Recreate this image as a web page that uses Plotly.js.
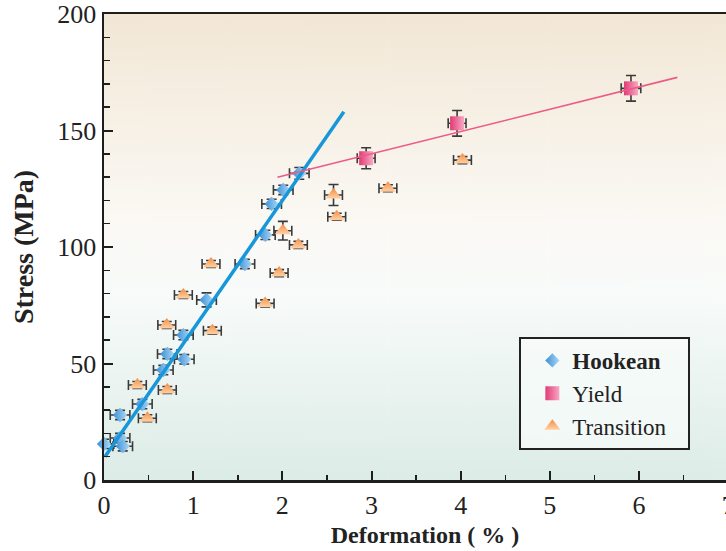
<!DOCTYPE html>
<html>
<head>
<meta charset="utf-8">
<script src="https://cdn.plot.ly/plotly-3.0.1.min.js"></script>
<style>
html, body { margin: 0; padding: 0; background: #ffffff; overflow: hidden; }
#chart { width: 760px; height: 551px; }
</style>
</head>
<body>
<div id="chart"></div>
<script>
// ---- data ----
const hookeanX    = [0.0, 0.18, 0.21, 0.18, 0.43, 0.665, 0.71, 0.90, 0.89, 1.15, 1.58, 1.81, 1.88, 2.01, 2.19];
const hookeanY    = [15.5, 18.0, 14.5, 27.9, 32.6, 47.2, 54.1, 51.8, 62.2, 77.3, 92.7, 105.2, 118.5, 124.5, 131.6];
const hookeanXErr = [0.11, 0.11, 0.11, 0.11, 0.11, 0.11, 0.11, 0.11, 0.11, 0.11, 0.11, 0.11, 0.11, 0.11, 0.11];
const hookeanYErr = [2, 2, 2, 2, 2, 2, 2, 2, 2, 3, 2, 2, 2, 2, 2.5];

const yieldX    = [2.94, 3.96, 5.91];
const yieldY    = [138.1, 153.1, 168.1];
const yieldXErr = [0.1, 0.1, 0.11];
const yieldYErr = [4.5, 5.5, 5.5];

const transX    = [0.374, 0.71, 0.486, 0.704, 0.89, 1.20, 1.215, 1.807, 1.964, 2.006, 2.18, 2.574, 2.61, 3.184, 4.02];
const transY    = [40.8, 38.6, 26.5, 66.5, 79.4, 92.7, 64.1, 75.8, 88.8, 107.0, 100.9, 122.3, 113.0, 125.2, 137.3];
const transXErr = [0.1, 0.1, 0.1, 0.1, 0.1, 0.1, 0.1, 0.1, 0.1, 0.1, 0.1, 0.1, 0.1, 0.1, 0.1];
const transYErr = [1.5, 1.5, 1.5, 1.5, 1.5, 1.5, 1.5, 1.5, 1.5, 4, 1.5, 4.5, 1.5, 1.5, 1.5];

const hookeanFitX = [0.01, 2.69];
const hookeanFitY = [10, 158];
const yieldFitX   = [1.945, 6.43];
const yieldFitY   = [129.9, 172.8];

const seriesNames = ['<b>Hookean</b>', 'Yield', 'Transition'];
const xTickVals = [0, 1, 2, 3, 4, 5, 6, 7];
const yTickVals = [0, 50, 100, 150, 200];

// ---- background gradient image for the plot area ----
function gradientImage() {
  const c = document.createElement('canvas');
  c.width = 8; c.height = 466;
  const g = c.getContext('2d');
  const lg = g.createLinearGradient(0, 0, 0, c.height);
  lg.addColorStop(0.0, '#f2e7d5');
  lg.addColorStop(0.45, '#fbf9f5');
  lg.addColorStop(0.6, '#f8fbfa');
  lg.addColorStop(1.0, '#dcece7');
  g.fillStyle = lg;
  g.fillRect(0, 0, c.width, c.height);
  return c.toDataURL('image/png');
}

const errStyle = { color: '#3a3a3a', thickness: 1.6, width: 5 };
const serif = 'Liberation Serif, Times New Roman, serif';
const pad = '\u00a0\u00a0\u00a0';

const traces = [
  {
    type: 'scatter', mode: 'markers', name: seriesNames[0] + pad,
    x: hookeanX, y: hookeanY, cliponaxis: false,
    error_x: Object.assign({ type: 'data', array: hookeanXErr, visible: true }, errStyle),
    error_y: Object.assign({ type: 'data', array: hookeanYErr, visible: true }, errStyle),
    marker: { symbol: 'diamond', size: 11, color: '#3d8fd6', line: { width: 0 },
              gradient: { type: 'horizontal', color: '#a9d8f6' } }
  },
  {
    type: 'scatter', mode: 'markers', name: seriesNames[1] + pad,
    x: yieldX, y: yieldY, cliponaxis: false,
    error_x: Object.assign({ type: 'data', array: yieldXErr, visible: true }, errStyle),
    error_y: Object.assign({ type: 'data', array: yieldYErr, visible: true }, errStyle),
    marker: { symbol: 'square', size: 14, color: '#e23a75', line: { width: 0 },
              gradient: { type: 'horizontal', color: '#f6a9c4' } }
  },
  {
    type: 'scatter', mode: 'markers', name: seriesNames[2] + pad,
    x: transX, y: transY, cliponaxis: false,
    error_x: Object.assign({ type: 'data', array: transXErr, visible: true }, errStyle),
    error_y: Object.assign({ type: 'data', array: transYErr, visible: true }, errStyle),
    marker: { symbol: 'triangle-up', size: 14, color: '#f58a3e', line: { width: 0 },
              gradient: { type: 'vertical', color: '#ffd2a6' } }
  },
  {
    type: 'scatter', mode: 'lines', showlegend: false, hoverinfo: 'skip',
    x: hookeanFitX, y: hookeanFitY,
    line: { color: '#1797da', width: 3.5 }
  },
  {
    type: 'scatter', mode: 'lines', showlegend: false, hoverinfo: 'skip',
    x: yieldFitX, y: yieldFitY,
    line: { color: '#ec5a86', width: 1.6 }
  }
];

const layout = {
  width: 760, height: 551,
  margin: { l: 104, r: 14, t: 14, b: 71 },
  paper_bgcolor: '#ffffff',
  plot_bgcolor: 'rgba(0,0,0,0)',
  font: { family: serif, color: '#222222', size: 26 },
  showlegend: true,
  images: [{
    source: gradientImage(), xref: 'paper', yref: 'paper',
    x: 0, y: 1, sizex: 1, sizey: 1, xanchor: 'left', yanchor: 'top',
    sizing: 'stretch', layer: 'below'
  }],
  xaxis: {
    range: [0, 7.2], showgrid: false, zeroline: false,
    showline: true, linecolor: '#1e1e1e', linewidth: 2.5, mirror: true,
    ticks: 'inside', ticklen: 9, tickwidth: 2, tickcolor: '#1e1e1e',
    tickmode: 'array', tickvals: xTickVals,
    minor: { dtick: 0.5, ticks: 'inside', ticklen: 5, tickwidth: 1.5, tickcolor: '#1e1e1e' },
    tickfont: { family: serif, size: 26, color: '#222' },
    title: { text: '<b>Deformation ( % )</b>', font: { family: serif, size: 24, color: '#222' }, standoff: 8 }
  },
  yaxis: {
    range: [0, 200], showgrid: false, zeroline: false,
    showline: true, linecolor: '#1e1e1e', linewidth: 2.5,
    ticks: 'inside', ticklen: 9, tickwidth: 2, tickcolor: '#1e1e1e',
    tickmode: 'array', tickvals: yTickVals,
    minor: { dtick: 10, ticks: 'inside', ticklen: 6, tickwidth: 1.5, tickcolor: '#1e1e1e' },
    tickfont: { family: serif, size: 26, color: '#222' },
    title: { text: '<b>Stress (MPa)</b>', font: { family: serif, size: 28, color: '#222' }, standoff: 16 }
  },
  legend: {
    x: 0.647, y: 0.307, xanchor: 'left', yanchor: 'top',
    bgcolor: 'rgba(248,252,251,0.7)', bordercolor: '#222222', borderwidth: 2,
    font: { family: serif, size: 23, color: '#222' },
    indentation: 11, itemwidth: 30
  }
};

Plotly.newPlot('chart', traces, layout, { displayModeBar: false, staticPlot: true });
</script>
</body>
</html>
